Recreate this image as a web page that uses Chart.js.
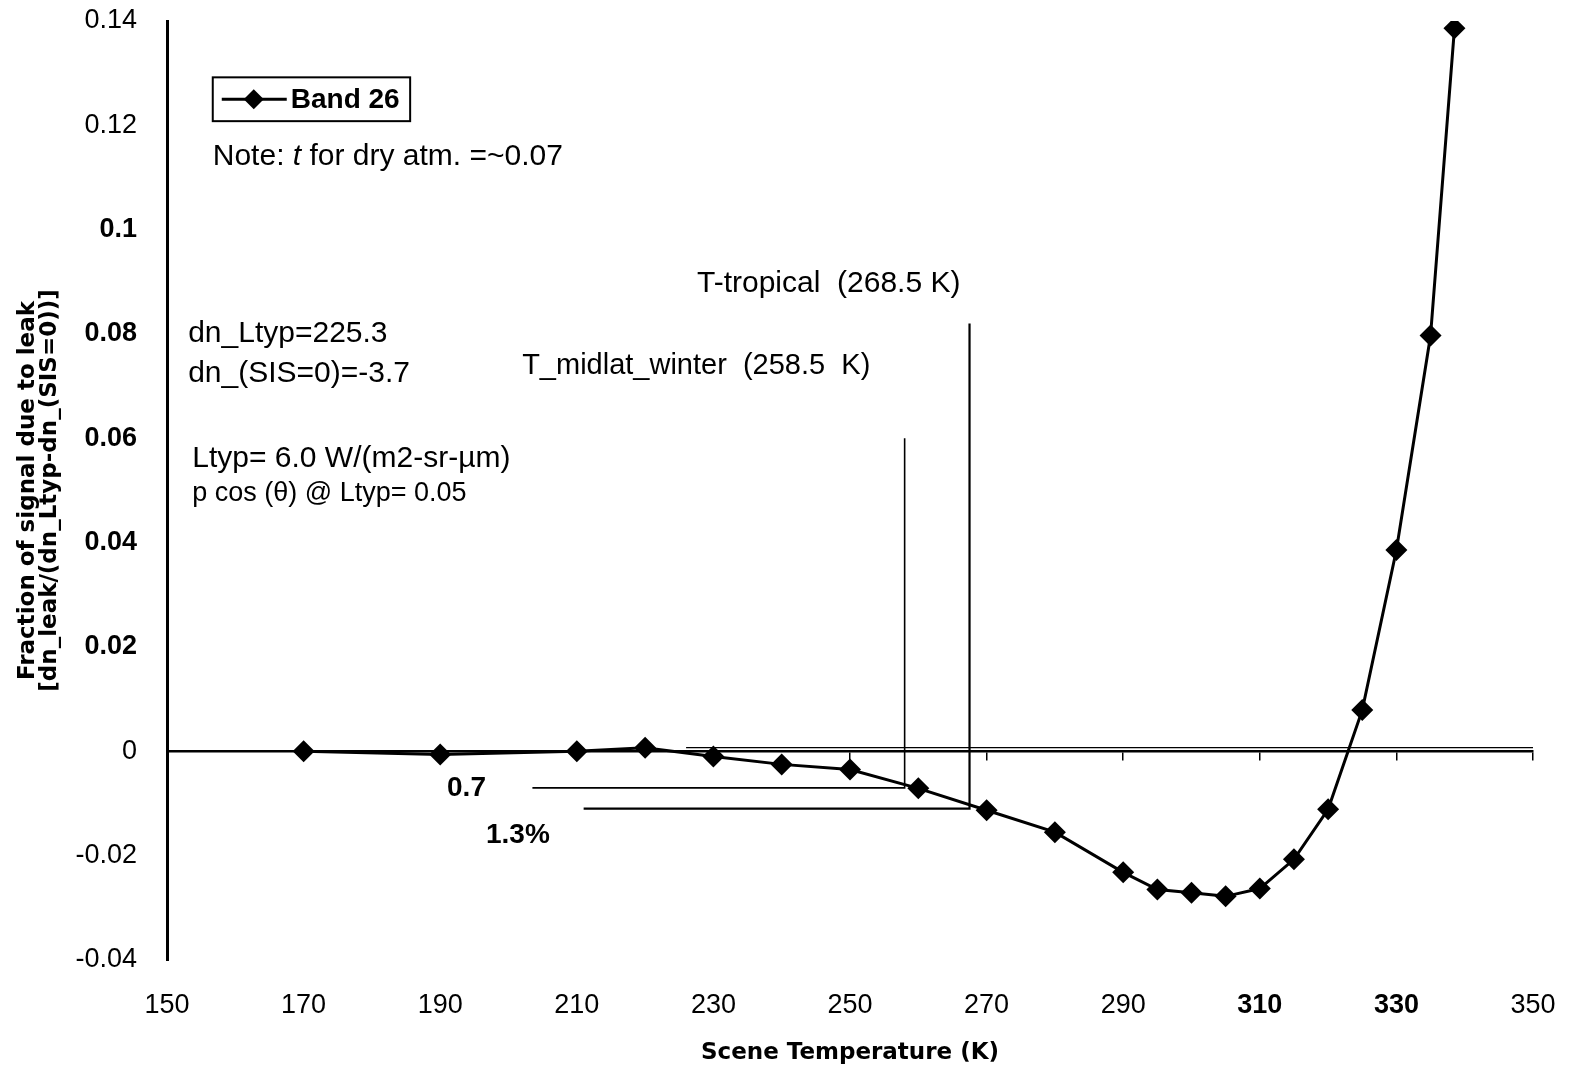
<!DOCTYPE html>
<html>
<head>
<meta charset="utf-8">
<script src="https://cdn.jsdelivr.net/npm/chart.js@4.4.1/dist/chart.umd.min.js"></script>
<style>
  html, body { margin: 0; padding: 0; background: #fff; }
</style>
</head>
<body>
<canvas id="leakChart" width="1572" height="1073"></canvas>
<script>
// scene temperature (K) and leak fraction for band 26
const temps  = [170, 190, 210, 220, 230, 240, 250, 260, 270, 280, 290, 295, 300, 305, 310, 315, 320, 325, 330, 335, 338.5];
const band26 = [0, -0.0006, 0, 0.0007, -0.001, -0.0025, -0.0035, -0.0071, -0.0113, -0.0155, -0.0232, -0.0265, -0.0271, -0.0278, -0.0263, -0.0207, -0.0111, 0.0079, 0.0386, 0.0797, 0.1386];

// marker lines for the two atmospheres
const midlatX = [203.5, 258, 258];
const midlatY = [-0.007, -0.007, 0.06];
const tropX   = [211, 267.5, 267.5];
const tropY   = [-0.011, -0.011, 0.082];
const refX    = [226, 350];
const refY    = [0.0007, 0.0007];

// tick labels printed in bold
const xBold = [310, 330];
const yBold = [0.02, 0.04, 0.06, 0.08, 0.1];

const FONT = "'Liberation Sans', Arial, Helvetica, sans-serif";
const WIDE = "'DejaVu Sans', Verdana, sans-serif";

const toPts = (xs, ys) => xs.map((x, i) => ({ x: x, y: ys[i] }));

// free text on the plot, placed in data units
const notes = [
  { parts: [['Note: ', ''], ['t', 'italic '], [' for dry atm. =~0.07', '']], x: 156.7, y: 0.1139, size: 30 },
  { parts: [['dn_Ltyp=225.3', '']], x: 153.1, y: 0.0800, size: 30 },
  { parts: [['dn_(SIS=0)=-3.7', '']], x: 153.1, y: 0.0723, size: 30 },
  { parts: [['Ltyp= 6.0 W/(m2-sr-\u00b5m)', '']], x: 153.7, y: 0.0560, size: 30 },
  { parts: [['p cos (\u03b8) @ Ltyp= 0.05', '']], x: 153.7, y: 0.0495, size: 27 },
  { parts: [['T-tropical  (268.5 K)', '']], x: 227.6, y: 0.0896, size: 30 },
  { parts: [['T_midlat_winter  (258.5  K)', '']], x: 202, y: 0.0738, size: 29 },
  { parts: [['0.7', 'bold ']], x: 191, y: -0.0071, size: 28 },
  { parts: [['1.3%', 'bold ']], x: 196.7, y: -0.0161, size: 28 }
];

const notesPlugin = {
  id: 'notes',
  afterDatasetsDraw(chart) {
    const { ctx, scales: { x, y } } = chart;
    ctx.save();
    ctx.fillStyle = '#000';
    ctx.textBaseline = 'middle';
    ctx.textAlign = 'left';
    notes.forEach(n => {
      let px = x.getPixelForValue(n.x);
      const py = y.getPixelForValue(n.y);
      n.parts.forEach(([txt, style]) => {
        ctx.font = style + n.size + 'px ' + FONT;
        ctx.fillText(txt, px, py);
        px += ctx.measureText(txt).width;
      });
    });
    ctx.restore();
  }
};

// boxed legend inside the plot
const legendBox = { x1: 156.7, x2: 185.6, y1: 0.1292, y2: 0.1208 };

const boxLegendPlugin = {
  id: 'boxLegend',
  afterDraw(chart) {
    const { ctx, scales: { x, y } } = chart;
    const l = x.getPixelForValue(legendBox.x1);
    const r = x.getPixelForValue(legendBox.x2);
    const t = y.getPixelForValue(legendBox.y1);
    const b = y.getPixelForValue(legendBox.y2);
    const my = (t + b) / 2;
    ctx.save();
    ctx.fillStyle = '#fff';
    ctx.fillRect(l, t, r - l, b - t);
    ctx.strokeStyle = '#000';
    ctx.lineWidth = 2;
    ctx.strokeRect(l, t, r - l, b - t);
    ctx.lineWidth = 3;
    ctx.beginPath();
    ctx.moveTo(l + 9, my);
    ctx.lineTo(l + 74, my);
    ctx.stroke();
    ctx.fillStyle = '#000';
    ctx.beginPath();
    ctx.moveTo(l + 41, my - 10);
    ctx.lineTo(l + 51, my);
    ctx.lineTo(l + 41, my + 10);
    ctx.lineTo(l + 31, my);
    ctx.closePath();
    ctx.fill();
    ctx.font = 'bold 28px ' + FONT;
    ctx.textBaseline = 'middle';
    ctx.fillText('Band 26', l + 78, my + 1);
    ctx.restore();
  }
};

const tickFont = (list) => (c) => ({
  family: FONT,
  size: 27,
  weight: c.tick && list.some(v => Math.abs(v - c.tick.value) < 1e-9) ? 'bold' : 'normal'
});

new Chart(document.getElementById('leakChart'), {
  type: 'line',
  data: {
    datasets: [
      {
        label: 'Band 26',
        data: toPts(temps, band26),
        borderColor: '#000',
        backgroundColor: '#000',
        borderWidth: 3,
        pointStyle: 'rectRot',
        pointRadius: 11,
        pointBorderWidth: 0,
        tension: 0
      },
      { data: toPts(midlatX, midlatY), borderColor: '#000', borderWidth: 1.6, pointRadius: 0 },
      { data: toPts(tropX, tropY), borderColor: '#000', borderWidth: 2.2, pointRadius: 0 },
      { data: toPts(refX, refY), borderColor: '#000', borderWidth: 1.3, pointRadius: 0 }
    ]
  },
  options: {
    responsive: false,
    animation: false,
    devicePixelRatio: 1,
    layout: { padding: { top: 21, right: 39, bottom: 0, left: 0 } },
    plugins: {
      legend: { display: false },
      tooltip: { enabled: false }
    },
    scales: {
      x: {
        type: 'linear',
        position: 'bottom',
        min: 150,
        max: 350,
        border: { display: false },
        grid: { display: false, drawTicks: false },
        ticks: {
          stepSize: 20,
          padding: 29,
          color: '#000',
          maxRotation: 0,
          autoSkip: false,
          font: tickFont(xBold)
        },
        title: {
          display: true,
          text: 'Scene Temperature (K)',
          color: '#000',
          font: { family: WIDE, size: 23, weight: 'bold' },
          padding: { top: 0, bottom: 6 }
        },
        afterFit: s => { s.height = 113; s.paddingLeft = 0; s.paddingRight = 0; }
      },
      x2: {
        type: 'linear',
        position: { y: 0 },
        min: 150,
        max: 350,
        ticks: { display: false, stepSize: 20 },
        grid: { display: true, drawOnChartArea: false, drawTicks: true, tickLength: 8, color: '#000', lineWidth: 1.5 },
        border: { display: true, color: '#000', width: 2.5 },
        afterFit: s => { s.paddingLeft = 0; s.paddingRight = 0; }
      },
      y: {
        min: -0.04,
        max: 0.14,
        border: { display: true, color: '#000', width: 3 },
        grid: { display: false, drawTicks: false },
        ticks: {
          stepSize: 0.02,
          padding: 30,
          color: '#000',
          font: tickFont(yBold),
          callback: v => String(parseFloat(v.toFixed(2)))
        },
        title: {
          display: true,
          text: ['Fraction of signal due to leak', '[dn_leak/(dn_Ltyp-dn_(SIS=0))]'],
          color: '#000',
          font: { family: WIDE, size: 23, weight: 'bold', lineHeight: '22px' },
          padding: { top: 17, bottom: 0 }
        },
        afterFit: s => { s.width = 167; s.paddingTop = 0; s.paddingBottom = 0; }
      }
    }
  },
  plugins: [notesPlugin, boxLegendPlugin]
});
</script>
</body>
</html>
